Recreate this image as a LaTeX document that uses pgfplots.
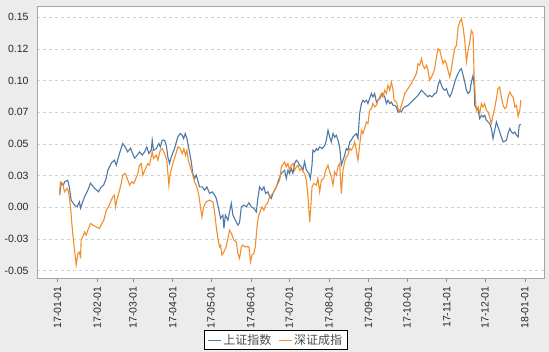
\documentclass[border=0pt]{standalone}
\usepackage{fontspec}
\setmainfont{Liberation Sans}
\newfontfamily\cjk{Noto Sans CJK SC}
\usepackage{pgfplots}
\pgfplotsset{compat=1.18}
\definecolor{bgc}{RGB}{236,236,236}
\definecolor{shc}{RGB}{78,121,167}
\definecolor{szc}{RGB}{242,142,43}
\begin{document}
\begin{tikzpicture}
\fill[bgc] (0pt,0pt) rectangle (549pt,352pt);
\begin{axis}[
  at={(37pt,74pt)}, anchor=south west, scale only axis,
  width=507pt, height=272pt,
  xmin=-16, xmax=380, ymin=-0.056, ymax=0.159,
  axis background/.style={fill=white},
  axis line style={draw=black!35, line width=0.8pt},
  /pgf/number format/assume math mode=true,
  xtick={0,31,59,90,120,151,181,212,243,273,304,334,365},
  xticklabels={17-01-01,17-02-01,17-03-01,17-04-01,17-05-01,17-06-01,17-07-01,17-08-01,17-09-01,17-10-01,17-11-01,17-12-01,18-01-01},
  x tick label style={rotate=90, anchor=east, font=\fontsize{10.5}{12}\selectfont, text=black!85},
  ytick={-0.05,-0.025,0,0.025,0.05,0.075,0.1,0.125,0.15},
  yticklabels={-0.05,-0.03,0.00,0.03,0.05,0.07,0.10,0.12,0.15},
  y tick label style={font=\fontsize{10.5}{12}\selectfont, text=black!85},
  ymajorgrids, grid style={dashed, black!18, line width=0.5pt},
  tick align=outside, major tick length=4pt,
  xtick pos=bottom, ytick pos=left,
  x tick style={draw=black!45, line width=0.6pt},
  y tick style={draw=none},
  xticklabel shift=1pt, yticklabel shift=1pt,
  legend columns=2,
  legend style={at={(0.471,-0.228)}, anchor=center, draw=black, line width=0.8pt, fill=white,
    font=\cjk\fontsize{12}{14}\selectfont, text=black!70, inner xsep=3pt, inner ysep=1.5pt,
    /tikz/every even column/.append style={column sep=5pt}},
  legend image code/.code={\draw[#1, line width=0.9pt] (0pt,0pt) -- (13pt,0pt);},
]
\addplot[shc, line width=1.1pt] coordinates {
(1.6,0.0095)(2.9,0.0187)(4.7,0.0174)(5.5,0.020)(8.0,0.0213)(9.4,0.015)(10.7,0.0055)(13.3,0.0016)(15.4,0.0002)(17.2,0.0042)(18.0,-0.0008)(21.1,0.0081)(23.7,0.0134)(25.8,0.019)(28.9,0.015)(32.0,0.0121)(34.2,0.016)(36.0,0.0174)(38.1,0.0229)(39.3,0.0292)(42.0,0.0347)(43.0,0.0358)(44.5,0.0371)(45.9,0.0332)(48.5,0.0426)(51.0,0.0503)(52.9,0.0476)(54.7,0.0437)(57.1,0.0466)(58.6,0.0426)(60.2,0.0387)(62.3,0.0411)(64.1,0.0437)(66.2,0.0411)(68.0,0.0437)(69.8,0.0476)(71.4,0.0424)(73.2,0.045)(74.0,0.0529)(75.0,0.045)(77.1,0.0463)(79.2,0.0503)(80.3,0.0476)(81.8,0.0529)(83.6,0.0529)(85.0,0.0489)(86.2,0.0397)(87.5,0.0345)(88.9,0.0397)(91.4,0.0463)(94.0,0.0555)(95.9,0.0582)(97.5,0.0568)(98.5,0.0542)(99.8,0.0582)(101.1,0.0542)(102.6,0.0463)(104.5,0.0358)(105.7,0.0266)(107.1,0.0227)(108.4,0.0253)(111.0,0.016)(113.1,0.016)(114.9,0.0134)(116.7,0.016)(118.8,0.0108)(120.9,0.0121)(122.7,0.0095)(124.0,0.0069)(125.8,-0.001)(127.4,-0.0089)(129.2,-0.0063)(130.0,-0.0168)(131.1,-0.0063)(133.1,-0.0103)(134.4,-0.0037)(135.8,0.0029)(137.0,-0.0063)(138.9,-0.0103)(140.9,-0.0142)(142.2,-0.0124)(143.6,0.0002)(145.6,0.0016)(147.5,0.0002)(149.5,0.0034)(151.4,0.0002)(153.4,-0.001)(155.3,-0.0037)(156.5,0.0069)(157.9,0.016)(159.7,0.0134)(161.2,0.016)(162.6,0.0108)(164.4,0.0121)(165.7,0.0081)(167.0,0.0069)(168.3,0.0108)(169.6,0.0134)(170.9,0.016)(172.7,0.0213)(174.8,0.0266)(177.4,0.0292)(178.7,0.0227)(180.0,0.0292)(181.3,0.0266)(182.6,0.0306)(183.9,0.0266)(185.2,0.0345)(186.6,0.0371)(187.8,0.0358)(189.1,0.0332)(190.5,0.0318)(191.7,0.0292)(193.0,0.0358)(194.4,0.0292)(196.4,0.0266)(197.5,0.0227)(198.8,0.0332)(199.5,0.045)(200.9,0.0437)(202.2,0.0463)(203.4,0.045)(204.8,0.0476)(206.9,0.0463)(208.7,0.0489)(210.0,0.0529)(211.3,0.0608)(212.6,0.0555)(213.9,0.0516)(215.2,0.0582)(216.5,0.0553)(217.8,0.0568)(219.1,0.0529)(220.4,0.0476)(221.7,0.0332)(223.0,0.0371)(224.3,0.0411)(225.6,0.0463)(226.9,0.045)(228.2,0.0516)(229.5,0.0529)(230.8,0.0555)(232.1,0.0568)(233.4,0.0582)(234.7,0.0542)(236.0,0.074)(237.4,0.0819)(238.6,0.0845)(239.9,0.0831)(241.3,0.0845)(242.5,0.0819)(243.8,0.0858)(245.2,0.0898)(246.4,0.0871)(247.7,0.0898)(249.1,0.0831)(250.3,0.0845)(251.7,0.0858)(253.0,0.0884)(254.2,0.0898)(255.6,0.0871)(256.9,0.0819)(258.1,0.0845)(259.5,0.0819)(260.8,0.0831)(262.1,0.0805)(263.4,0.0805)(264.7,0.0792)(266.0,0.0752)(267.3,0.0766)(268.6,0.0752)(269.9,0.0779)(271.2,0.0792)(273.8,0.0805)(276.4,0.0831)(279.0,0.0858)(281.6,0.0884)(284.3,0.0924)(286.8,0.0898)(289.4,0.0871)(290.7,0.0884)(292.5,0.0871)(294.6,0.0898)(296.0,0.0902)(297.2,0.0963)(298.6,0.1003)(299.9,0.0963)(301.1,0.0937)(302.5,0.0924)(303.8,0.0937)(305.0,0.0898)(306.4,0.0871)(307.7,0.0898)(308.9,0.0937)(310.3,0.0989)(311.6,0.1029)(312.9,0.1056)(314.2,0.1082)(315.5,0.1095)(316.8,0.1042)(318.1,0.0989)(319.4,0.0924)(320.7,0.0898)(322.0,0.091)(323.3,0.0989)(324.6,0.1042)(325.4,0.0963)(325.9,0.0805)(327.2,0.0779)(328.5,0.0766)(329.8,0.07)(331.1,0.0726)(332.4,0.0713)(333.7,0.0726)(335.0,0.0687)(336.3,0.0673)(337.6,0.0661)(338.9,0.0621)(340.2,0.0542)(341.5,0.0608)(342.8,0.0673)(344.1,0.0634)(345.4,0.0594)(346.7,0.0555)(348.0,0.0516)(349.4,0.0521)(350.7,0.0529)(351.9,0.0582)(353.3,0.0621)(354.6,0.0594)(355.9,0.0582)(357.2,0.0594)(358.5,0.0568)(359.8,0.0555)(360.6,0.0647)(361.9,0.0655)
};
\addlegendentry{上证指数}
\addplot[szc, line width=1.1pt] coordinates {
(1.6,0.0095)(2.3,0.02)(4.1,0.0187)(5.5,0.0121)(7.6,0.0148)(8.6,0.0121)(10.2,0.0002)(11.2,-0.0129)(12.7,-0.0287)(13.8,-0.0379)(14.6,-0.0458)(15.9,-0.0366)(17.2,-0.0355)(18.0,-0.0405)(18.5,-0.0261)(19.8,-0.0234)(21.1,-0.0195)(22.4,-0.0221)(23.7,-0.0182)(25.8,-0.0129)(27.6,-0.0142)(30.2,-0.0156)(32.8,-0.0168)(34.6,-0.0129)(36.2,-0.0103)(38.1,-0.0024)(39.9,0.0002)(41.4,0.0042)(43.2,0.0081)(44.5,0.0095)(45.3,0.0002)(46.7,0.0069)(48.5,0.0134)(49.8,0.0187)(51.0,0.0253)(52.9,0.0266)(54.5,0.0227)(56.3,0.0174)(58.1,0.02)(59.6,0.0187)(62.8,0.0266)(64.1,0.0332)(65.4,0.0345)(66.7,0.0253)(68.8,0.0306)(70.6,0.0345)(71.9,0.0332)(74.0,0.0437)(75.0,0.0384)(77.1,0.0411)(78.4,0.0371)(80.3,0.045)(81.8,0.0463)(83.6,0.0424)(85.4,0.0371)(87.0,0.0174)(88.1,0.0266)(90.1,0.0345)(92.2,0.0411)(94.0,0.0476)(95.9,0.0463)(97.5,0.0424)(98.7,0.0463)(100.0,0.0411)(101.1,0.045)(102.1,0.0371)(103.7,0.0318)(105.3,0.0266)(107.1,0.02)(108.9,0.016)(110.4,0.0095)(111.5,0.0016)(112.8,-0.0077)(114.1,0.0002)(116.2,0.0042)(118.8,0.0055)(121.4,0.0042)(122.7,-0.0037)(124.0,-0.0156)(125.3,-0.0247)(126.6,-0.0313)(127.4,-0.03)(128.4,-0.0379)(130.0,-0.0353)(131.8,-0.0313)(133.1,-0.0247)(134.4,-0.0182)(135.8,-0.0208)(137.8,-0.0261)(139.7,-0.0274)(140.9,-0.0366)(142.2,-0.0405)(143.6,-0.0313)(144.8,-0.03)(146.2,-0.0313)(148.3,-0.0313)(149.5,-0.0313)(150.8,-0.0432)(151.9,-0.0379)(153.4,-0.0366)(154.5,-0.0313)(156.1,-0.0129)(157.3,-0.0063)(158.7,-0.0024)(159.7,0.0002)(161.2,-0.0024)(162.6,0.0016)(163.9,0.0029)(165.7,0.0081)(167.0,0.0095)(168.3,0.0108)(169.6,0.0134)(170.9,0.016)(172.2,0.0187)(173.5,0.0213)(174.8,0.0318)(177.4,0.0358)(178.7,0.0318)(180.0,0.0345)(181.3,0.0292)(182.6,0.0332)(183.9,0.0345)(185.2,0.0292)(186.6,0.0318)(187.8,0.0332)(189.1,0.0292)(190.5,0.0306)(191.7,0.0279)(193.0,0.0266)(194.4,0.0213)(195.6,0.0095)(197.0,-0.0116)(197.7,-0.0024)(198.8,0.016)(200.3,0.0187)(202.2,0.0174)(203.4,0.0227)(204.8,0.0121)(206.1,0.0213)(207.9,0.0227)(209.5,0.0292)(211.3,0.0332)(212.6,0.0279)(213.9,0.0239)(215.2,0.0174)(216.5,0.0279)(217.8,0.0253)(219.1,0.0318)(220.4,0.0345)(221.7,0.0108)(223.0,0.0292)(224.3,0.0358)(225.6,0.0397)(226.9,0.0411)(228.2,0.0463)(229.5,0.045)(230.8,0.0476)(232.1,0.0516)(233.4,0.045)(234.7,0.0371)(236.0,0.0489)(237.4,0.0608)(238.6,0.0582)(239.9,0.0621)(241.3,0.0673)(242.5,0.0661)(243.8,0.0766)(245.2,0.0779)(246.4,0.0819)(247.7,0.0792)(249.1,0.0805)(250.3,0.0845)(251.7,0.0871)(253.0,0.0898)(254.2,0.0871)(255.6,0.0924)(256.9,0.0898)(258.1,0.0963)(259.5,0.0924)(260.8,0.0989)(262.1,0.0924)(262.9,0.0845)(264.7,0.0831)(266.0,0.0779)(267.3,0.0752)(268.6,0.0805)(269.9,0.0845)(271.2,0.0898)(273.8,0.0937)(276.4,0.0977)(279.0,0.1029)(280.4,0.1056)(281.6,0.1134)(282.9,0.1121)(284.3,0.1174)(285.5,0.1121)(286.8,0.1095)(288.2,0.1121)(289.4,0.1082)(290.7,0.1003)(292.1,0.1029)(293.3,0.1056)(294.6,0.1095)(296.0,0.1187)(297.2,0.1253)(298.6,0.1239)(299.9,0.1187)(301.1,0.1134)(302.5,0.116)(303.8,0.1134)(305.0,0.1082)(306.4,0.1029)(307.7,0.1095)(308.9,0.1174)(310.3,0.1253)(311.6,0.1279)(312.9,0.1423)(314.2,0.1463)(315.5,0.149)(316.8,0.1423)(318.1,0.1318)(319.4,0.1150)(320.7,0.1239)(322.0,0.1305)(323.3,0.1397)(324.6,0.1371)(325.4,0.1042)(326.5,0.0845)(327.2,0.0766)(328.5,0.0792)(329.8,0.074)(331.1,0.0819)(332.4,0.0792)(333.7,0.0819)(335.0,0.0766)(336.3,0.0752)(337.6,0.0713)(338.9,0.0661)(340.2,0.0726)(341.5,0.0779)(342.8,0.0858)(344.1,0.0937)(345.4,0.095)(346.7,0.0871)(348.0,0.0805)(349.4,0.0779)(350.7,0.0792)(351.9,0.0871)(353.3,0.091)(354.6,0.0884)(355.9,0.0871)(357.2,0.0792)(358.5,0.0805)(359.8,0.0718)(361.1,0.0766)(361.9,0.0845)
};
\addlegendentry{深证成指}
\end{axis}
\end{tikzpicture}
\end{document}
